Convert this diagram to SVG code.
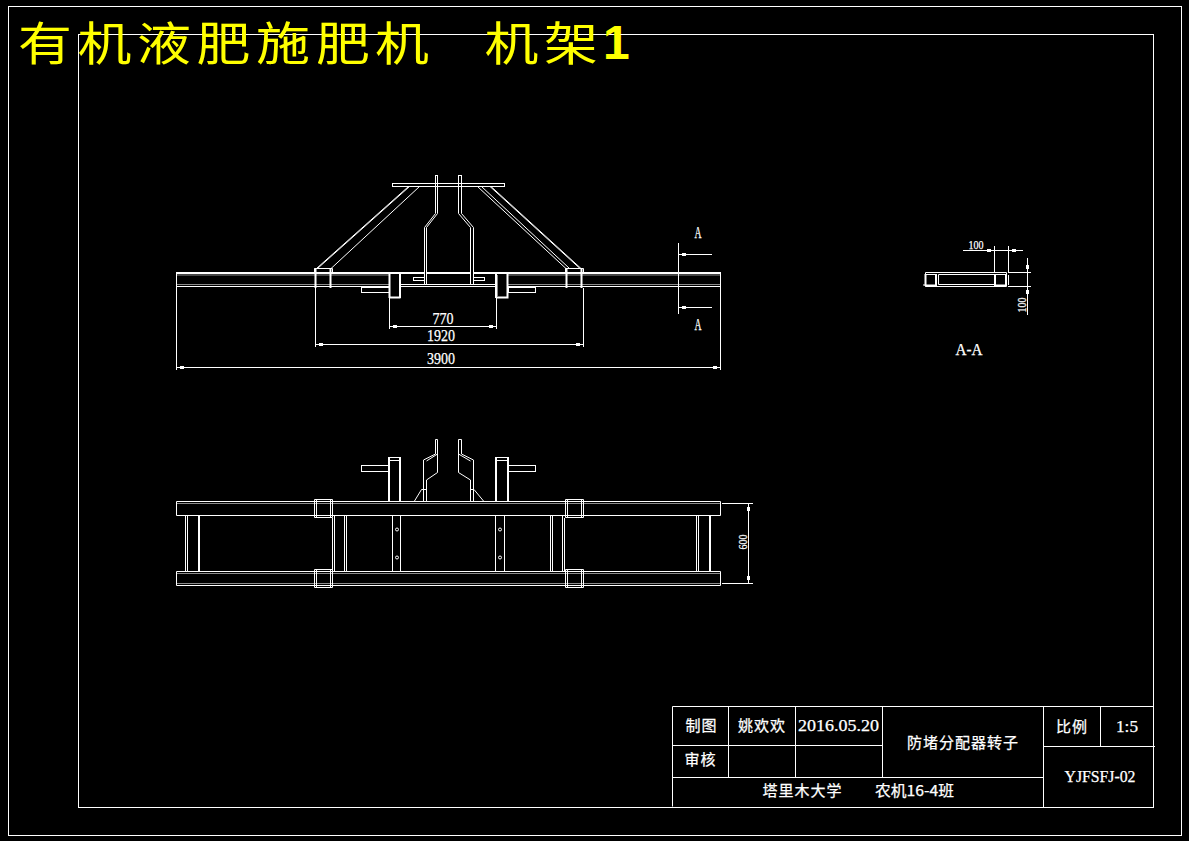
<svg xmlns="http://www.w3.org/2000/svg" width="1189" height="841" viewBox="0 0 1189 841">
<style>
.l{stroke:#fff;stroke-width:1;fill:none}
.k{stroke:#fff;stroke-width:2;fill:none}
.g{stroke:#8c8c8c;stroke-width:1;fill:none}
.b{fill:#fff}
text{fill:#fff;stroke:#fff;stroke-width:.25;text-anchor:middle}
.cn{font-family:"Noto Sans CJK SC","Liberation Sans",sans-serif;font-size:15px;letter-spacing:1px}
.la{font-family:"Liberation Serif","Noto Sans CJK SC",serif;font-size:16px}
.d{font-family:"Liberation Serif",serif;font-size:16px}
.s{font-size:12px}
.title{fill:#ff0;stroke:none;font-family:"Noto Sans CJK SC",sans-serif;font-size:54px;text-anchor:start}
</style>
<rect width="1189" height="841" fill="#000"/>
<g id="frame">
<rect class="l" x="8.5" y="6.5" width="1173" height="829"/>
<rect class="l" x="78.5" y="34.5" width="1075" height="773"/>
</g>
<g id="heading">
<text class="title" transform="translate(0 59.500) scale(1 .85)" x="18 77.500 137 196.500 256 316 375 430 484.500 544" y="0">有机液肥施肥机 机架</text>
<text class="title" x="603" y="59" style="font-family:'Liberation Sans',sans-serif;font-weight:bold;font-size:48px">1</text>
</g>
<g id="front-view">
<path class="k" d="M176 273H424M427 273H470M473 273H721"/>
<path class="g" d="M176 275H389M508 275H721M176 284.500H389M508 284.500H721"/>
<path class="l" d="M176.500 273V286.500M176 286.500H389.500M400 286.500H496M508 286.500H721M400 284.500H496"/>
<path class="l" d="M408.500 186.500L316.500 268.500M409.500 186.500L317.500 268.500M419.500 186.500L330.500 269"/>
<path class="l" d="M490 186.500L580 268.500M491 186.500L581 268.500M477.500 186.500L566.500 269M481.500 186.500L569 268"/>
<rect class="l" x="392.500" y="183.500" width="112" height="3"/>
<path class="l" d="M435.500 175V213.500L424.500 227.500V284.500M437.500 175V213.500L426.500 227.500V284.500M435.500 175.500H437.500"/>
<path class="l" d="M458.500 175V213.500L470.500 227.500V284.500M461.500 175V213.500L473.500 227.500V284.500M458.500 175.500H461.500"/>
<rect class="l" x="413.500" y="277.500" width="11" height="3"/>
<rect class="l" x="473.500" y="277.500" width="11" height="3"/>
<path class="l" d="M314.500 272V268.500H332.500V272M565.500 272V268.500H583.500V272"/>
<path class="k" d="M315.500 268V288M330.500 268V288M566.500 268V288M581.500 268V288"/>
<path class="k" d="M389.500 274V298M400 274V298M389 297.500H400.500M507.500 274V298M496 274V298M496 297.500H508.500"/>
<path class="g" d="M497.500 275V297"/>
<rect class="l" x="361.500" y="287.500" width="28" height="5"/>
<rect class="l" x="508.500" y="287.500" width="27" height="5"/>
</g>
<g id="plan-view">
<path class="l" d="M176.500 501.500H720.500V515.500H176.500ZM176.500 571.500H720.500V585.500H176.500Z"/>
<path class="g" d="M177 503.500H720M177 573.500H720M177 583.500H720"/>
<path class="l" d="M314.500 499.500H332.500V517.500H314.500ZM314.500 569.500H332.500V587.500H314.500ZM565.500 499.500H583.500V517.500H565.500ZM565.500 569.500H583.500V587.500H565.500Z"/>
<path class="l" d="M316.500 500V517M330.500 500V517M316.500 570V587M330.500 570V587M567.500 500V517M581.500 500V517M567.500 570V587M581.500 570V587"/>
<path class="l" d="M185.500 516V571M187.500 516V571M332.500 518V571M334.500 516V571M344.500 516V571M346.500 516V571M392.500 516V571M400.500 516V571M495.500 516V571M504.500 516V571M550.500 516V571M552.500 516V571M562.500 516V571M564.500 518V571M696.500 516V571M698.500 516V571"/>
<path class="k" d="M199 516V571M710 516V571"/>
<g class="l">
<circle class="l" cx="397" cy="529.500" r="1.500"/><circle class="l" cx="397" cy="557.500" r="1.500"/>
<circle class="l" cx="500" cy="529.500" r="1.500"/><circle class="l" cx="500" cy="557.500" r="1.500"/>
</g>
<path class="k" d="M389 457V501M400 457V501M496 457V501M508 457V501"/>
<path class="l" d="M389 457.500H400M389 460.500H400M496 457.500H508M496 460.500H508"/>
<rect class="l" x="361.500" y="465.500" width="27" height="6"/>
<rect class="l" x="508.500" y="465.500" width="27" height="6"/>
<path class="l" d="M435.500 439.500V454L423.500 460V501M437.500 439.500V472.500L426.500 480V501M435.500 439.500H437.500M437.500 454L426.500 461M414.500 501L421.500 489.500H426.500"/>
<path class="l" d="M458.500 439.500V472.500L470.500 480V501M461.500 439.500V454L473.500 460V501M458.500 439.500H461.500M458.500 454L470.500 461M483.500 501L474 489.500H470.500"/>
</g>
<g id="section-view">
<path class="l" d="M925.500 272.500H1006.500V286.500H925.500Z"/>
<path class="k" d="M925.500 274V286M936 274V286M995 274V286M1006 274V286M925 285.500H936M995 285.500H1006"/>
<path class="l" d="M925.500 274.500H936.500M995.500 274.500H1006.500M938.500 274.500H995M938.500 284.500H995M938.500 274.500V284.500M923 285H925M1008.500 275V285"/>
</g>
<g id="connectors">
<path class="l" d="M176.500 286V370M720.500 272V370M176.500 367.500H720.500"/>
<path class="l" d="M315.500 288V347M583.500 288V347M315.500 344.500H583.500"/>
<path class="l" d="M389.500 298V329M496.500 298V329M389.500 326.500H496.500"/>
<rect class="b" x="180" y="366" width="4" height="3"/><rect class="b" x="713" y="366" width="4" height="3"/>
<rect class="b" x="319" y="343" width="4" height="3"/><rect class="b" x="576" y="343" width="4" height="3"/>
<rect class="b" x="393" y="325" width="4" height="3"/><rect class="b" x="489" y="325" width="4" height="3"/>
<path class="l" d="M678.500 243V314M678.500 254.500H712M678.500 307.500H712"/>
<rect class="b" x="682" y="253" width="4" height="3"/><rect class="b" x="682" y="306" width="4" height="3"/>
<path class="l" d="M963 250.500H1023M994.500 246V272M1008.500 246V272M1008 272.500H1031M1008 286.500H1031M1027.500 258V315"/>
<rect class="b" x="987" y="249" width="4" height="3"/><rect class="b" x="1012" y="249" width="4" height="3"/>
<rect class="b" x="1026" y="265" width="3" height="4"/><rect class="b" x="1026" y="290" width="3" height="4"/>
<path class="l" d="M722 503.500H753M722 583.500H753M748.500 503.500V583.500"/>
<rect class="b" x="747" y="507" width="3" height="4"/><rect class="b" x="747" y="576" width="3" height="4"/>
</g>
<g id="dimension-labels">
<text class="d" x="441" y="364" textLength="28" lengthAdjust="spacingAndGlyphs">3900</text>
<text class="d" x="441" y="341" textLength="28" lengthAdjust="spacingAndGlyphs">1920</text>
<text class="d" x="443" y="324" textLength="21" lengthAdjust="spacingAndGlyphs">770</text>
<text class="d" x="698" y="238" textLength="7" lengthAdjust="spacingAndGlyphs">A</text>
<text class="d" x="698" y="330" textLength="7" lengthAdjust="spacingAndGlyphs">A</text>
<text class="d s" x="976" y="249" textLength="15" lengthAdjust="spacingAndGlyphs">100</text>
<text class="d s" transform="translate(1026 305) rotate(-90)" textLength="15" lengthAdjust="spacingAndGlyphs">100</text>
<text class="d s" transform="translate(746.500 542) rotate(-90)" textLength="15" lengthAdjust="spacingAndGlyphs">600</text>
<text class="la" x="969" y="355" textLength="27" lengthAdjust="spacingAndGlyphs">A-A</text>
</g>
<g id="title-block">
<path class="l" d="M672.500 806.500V706.500H1153.500M728.500 706.500V777.500M795.500 706.500V777.500M882.500 706.500V777.500M1043.500 706.500V807M1100.500 706.500V746.500M672.500 745.500H882.500M672.500 777.500H1043.500M1043.500 746.500H1155"/>
<text class="cn" x="701.500" y="731">制图</text>
<text class="cn" x="700.500" y="765">审核</text>
<text class="cn" x="762" y="731">姚欢欢</text>
<text class="la" x="838.500" y="731" textLength="81" lengthAdjust="spacingAndGlyphs">2016.05.20</text>
<text class="cn" x="963" y="748">防堵分配器转子</text>
<text class="cn" x="1072" y="732">比例</text>
<text class="la" x="1127" y="732" textLength="22" lengthAdjust="spacingAndGlyphs">1:5</text>
<text class="la" x="1100" y="782" textLength="71" lengthAdjust="spacingAndGlyphs">YJFSFJ-02</text>
<text class="cn" x="802.500" y="796">塔里木大学</text>
<text class="cn" x="914.500" y="796" style="letter-spacing:0" textLength="79" lengthAdjust="spacingAndGlyphs">农机16-4班</text>
</g>
</svg>
